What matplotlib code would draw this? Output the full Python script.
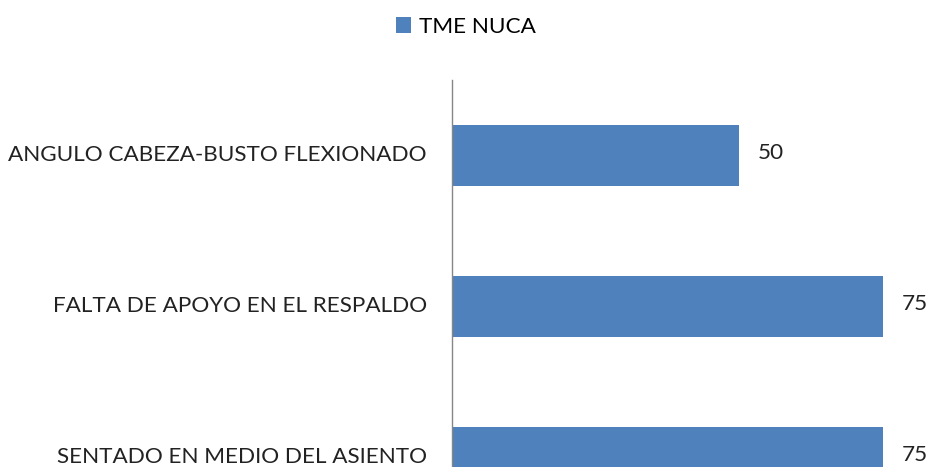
import matplotlib.pyplot as plt
from matplotlib.transforms import ScaledTranslation

categorias = ['ANGULO CABEZA-BUSTO FLEXIONADO',
              'FALTA DE APOYO EN EL RESPALDO',
              'SENTADO EN MEDIO DEL ASIENTO']
valores = [50, 75, 75]
serie = 'TME NUCA'

plt.rcParams['font.family'] = ['Lato', 'DejaVu Sans']
fs = 16.2

fig = plt.figure(figsize=(9.29, 4.67), dpi=100)
# axes goes below the figure edge: the original picture is cropped
ax = fig.add_axes([452 / 929, (467 - 533) / 467, 460 / 929, 453 / 467])

pos = list(range(len(categorias)))
bars = ax.barh(pos, valores, height=0.4, color='#4F81BD', label=serie)
ax.set_ylim(2.5, -0.5)
ax.set_xlim(0, 80)

ax.set_yticks(pos)
ax.set_yticklabels(categorias, fontsize=fs, color='#222222')
ax.tick_params(axis='y', length=0, pad=18)
ax.set_xticks([])
# nudge labels up a little so the last one stays inside the picture
up = ScaledTranslation(0, 2.5 / 100, fig.dpi_scale_trans)
for t in ax.get_yticklabels():
    t.set_transform(t.get_transform() + up)

for s in ['top', 'right', 'bottom']:
    ax.spines[s].set_visible(False)
ax.spines['left'].set_color('#868686')
ax.spines['left'].set_linewidth(1)

for b, v in zip(bars, valores):
    ax.annotate(str(v), (b.get_width(), b.get_y() + b.get_height() / 2),
                xytext=(13, 1.5), textcoords='offset points',
                va='center', ha='left', fontsize=fs, color='#222222')

fig.legend(handles=[bars], labels=[serie], loc='center', bbox_to_anchor=(0.5016, 1 - 27 / 467),
           frameon=False, fontsize=fs, handlelength=0.7, handleheight=0.7,
           handletextpad=0.35)

fig.savefig('out.png', dpi=100)
